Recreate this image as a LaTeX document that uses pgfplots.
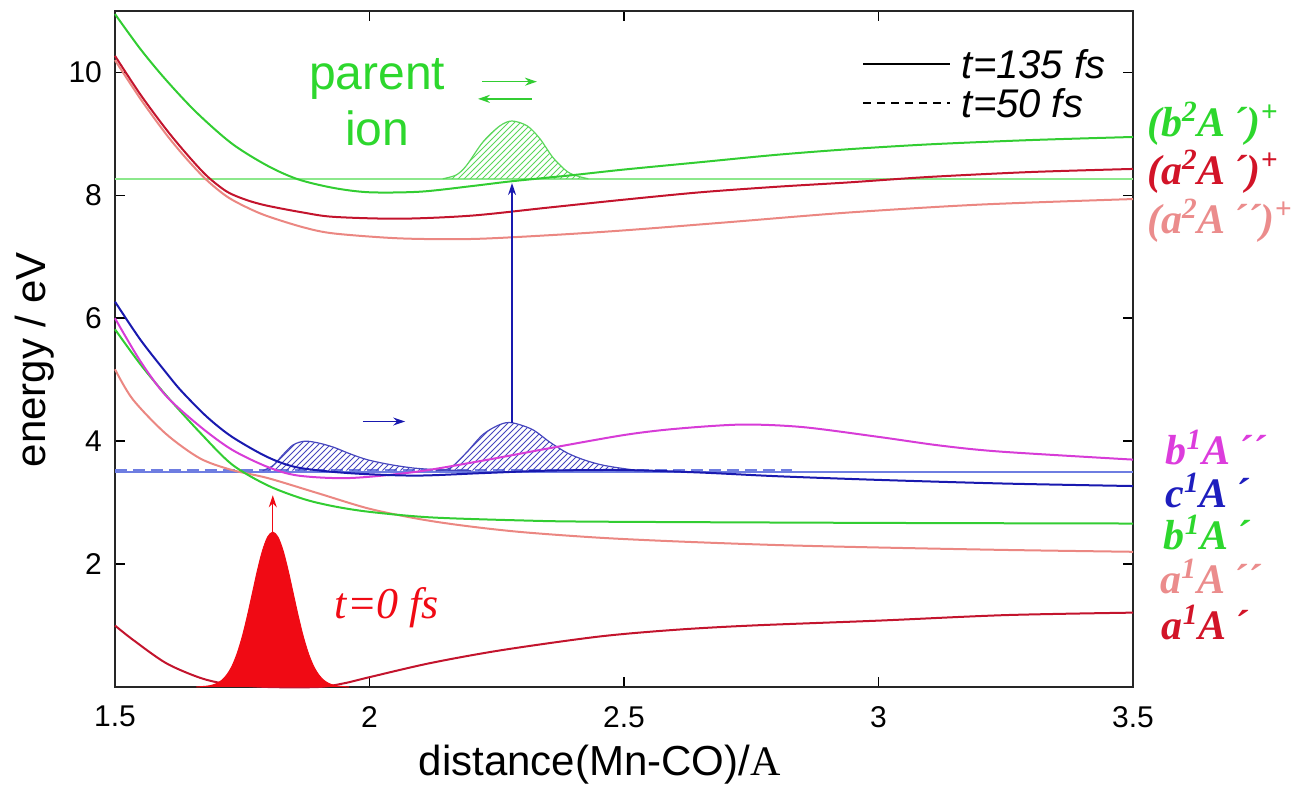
\documentclass[border=0pt]{standalone}
\usepackage{fontspec}
\setmainfont{Liberation Sans}
\newfontfamily\tnr{Liberation Serif}
\usepackage{pgfplots}
\pgfplotsset{compat=1.18}
\usetikzlibrary{patterns,arrows.meta}
\definecolor{cgreen}{RGB}{50,205,50}
\definecolor{clgreen}{RGB}{140,232,140}
\definecolor{ccrim}{RGB}{195,20,45}
\definecolor{cpink}{RGB}{235,135,130}
\definecolor{cblue}{RGB}{25,25,175}
\definecolor{clblue}{RGB}{110,125,225}
\definecolor{cmag}{RGB}{215,60,215}
\definecolor{cred}{RGB}{240,10,20}
\definecolor{cpack}{RGB}{70,70,190}
\definecolor{tgreen}{RGB}{45,215,45}
\definecolor{tcrim}{RGB}{210,20,40}
\definecolor{tpink}{RGB}{235,140,140}
\definecolor{tmag}{RGB}{220,60,220}
\definecolor{tblue}{RGB}{30,30,190}
\newcommand{\st}{\tnr\bfseries\itshape}
\begin{document}
\begin{tikzpicture}
\useasboundingbox (-57.5pt,-53pt) rectangle (596.5pt,343.5pt);
\begin{axis}[
  scale only axis, width=509pt, height=338pt,
  xmin=1.5, xmax=3.5, ymin=0, ymax=11,
  xtick={1.5,2,2.5,3,3.5}, xticklabels={1.5,2,2.5,3,3.5},
  ytick={2,4,6,8,10},
  /pgf/number format/assume math mode=true,
  tick align=inside, major tick length=5pt,
  tick style={line width=0.8pt, black},
  axis line style={line width=1pt, black!85},
  ticklabel style={font=\fontsize{15}{18}\selectfont},
  xticklabel shift=6pt, yticklabel shift=3pt,
  xlabel={distance(Mn-CO)/{\tnr A}},
  ylabel={energy / eV},
  label style={font=\fontsize{21}{25}\selectfont},
  xlabel style={at={(axis description cs:0.476,-0.115)}, anchor=center},
  ylabel style={at={(axis description cs:-0.079,0.484)}, anchor=center},
  clip=false,
]
% horizontal reference lines
\addplot[clgreen, line width=0.9pt] coordinates {(1.5,8.27)(3.5,8.27)};
\addplot[clblue, line width=0.9pt] coordinates {(1.5,3.50)(3.5,3.50)};
\addplot[clblue, line width=1.4pt, dash pattern=on 6pt off 3pt] coordinates {(1.5,3.53)(2.83,3.53)};

% wave packets
\addplot[cgreen!80, line width=0.6pt, pattern=north east lines, pattern color=cgreen!80, smooth] coordinates {
(2.144,8.27)(2.17,8.33)(2.19,8.48)(2.223,8.87)(2.256,9.13)(2.28,9.21)(2.31,9.13)(2.335,8.92)(2.36,8.62)(2.388,8.39)(2.41,8.31)(2.43,8.27)};
\addplot[cpack, line width=0.6pt, pattern=north east lines, pattern color=cpack, smooth] coordinates {
(1.79,3.52)(1.81,3.6)(1.83,3.78)(1.85,3.94)(1.873,4.0)(1.90,3.97)(1.93,3.9)(1.96,3.8)(1.995,3.70)(2.04,3.62)(2.09,3.56)(2.15,3.53)(2.2,3.52)};
\addplot[cpack, line width=0.6pt, pattern=north east lines, pattern color=cpack, smooth] coordinates {
(2.13,3.52)(2.158,3.56)(2.19,3.81)(2.223,4.11)(2.256,4.27)(2.28,4.30)(2.32,4.19)(2.355,3.98)(2.388,3.81)(2.42,3.70)(2.453,3.62)(2.486,3.57)(2.53,3.52)};

% upper (ionic) curves
\addplot[cpink, line width=1pt, smooth] coordinates {
(1.5,10.2)(1.55,9.57)(1.6,9.0)(1.64,8.6)(1.68,8.25)(1.72,7.98)(1.76,7.8)(1.8,7.66)(1.87,7.48)(1.93,7.38)(2.06,7.3)(2.2,7.29)(2.35,7.35)(2.5,7.43)(2.7,7.56)(2.94,7.72)(3.2,7.85)(3.5,7.94)};
\addplot[ccrim, line width=1pt, smooth] coordinates {
(1.5,10.27)(1.55,9.64)(1.6,9.08)(1.64,8.68)(1.68,8.32)(1.72,8.06)(1.76,7.92)(1.8,7.83)(1.87,7.72)(1.93,7.65)(2.06,7.62)(2.2,7.67)(2.35,7.8)(2.5,7.93)(2.65,8.05)(2.8,8.14)(2.94,8.21)(3.1,8.3)(3.3,8.38)(3.5,8.43)};
\addplot[cgreen, line width=1pt, smooth] coordinates {
(1.5,10.95)(1.55,10.38)(1.6,9.88)(1.66,9.35)(1.73,8.84)(1.8,8.48)(1.86,8.26)(1.93,8.12)(2.0,8.05)(2.1,8.06)(2.2,8.15)(2.28,8.23)(2.4,8.33)(2.5,8.42)(2.65,8.54)(2.8,8.66)(2.94,8.75)(3.1,8.83)(3.3,8.9)(3.5,8.95)};

% lower (neutral) curves
\addplot[cpink, line width=1pt, smooth] coordinates {
(1.5,5.17)(1.535,4.68)(1.6,4.12)(1.667,3.72)(1.73,3.53)(1.8,3.4)(1.9,3.15)(2.0,2.9)(2.1,2.73)(2.19,2.62)(2.3,2.52)(2.45,2.43)(2.6,2.37)(2.8,2.31)(3.0,2.27)(3.25,2.23)(3.5,2.2)};
\addplot[cgreen, line width=1pt, smooth] coordinates {
(1.5,5.82)(1.55,5.25)(1.6,4.75)(1.667,4.14)(1.73,3.62)(1.8,3.28)(1.87,3.06)(1.93,2.94)(2.0,2.85)(2.12,2.76)(2.3,2.71)(2.45,2.69)(3.0,2.67)(3.5,2.66)};
\addplot[cmag, line width=1pt, smooth] coordinates {
(1.5,6.0)(1.55,5.3)(1.6,4.74)(1.667,4.24)(1.73,3.86)(1.8,3.58)(1.86,3.44)(1.96,3.40)(2.09,3.5)(2.22,3.68)(2.35,3.88)(2.5,4.1)(2.6,4.2)(2.73,4.27)(2.85,4.23)(3.0,4.07)(3.12,3.93)(3.24,3.83)(3.5,3.70)};
\addplot[cblue, line width=1pt, smooth] coordinates {
(1.5,6.27)(1.55,5.65)(1.6,5.12)(1.63,4.82)(1.68,4.4)(1.73,4.07)(1.8,3.74)(1.86,3.57)(1.96,3.48)(2.09,3.44)(2.22,3.48)(2.35,3.52)(2.5,3.53)(2.65,3.49)(2.8,3.43)(3.0,3.37)(3.25,3.31)(3.5,3.27)};
\addplot[ccrim, line width=1pt, smooth] coordinates {
(1.5,1.0)(1.535,0.77)(1.6,0.39)(1.667,0.15)(1.72,0.05)(1.8,0.0)(1.9,0.0)(1.95,0.06)(2.0,0.16)(2.12,0.39)(2.26,0.6)(2.45,0.82)(2.6,0.93)(2.75,1.0)(3.0,1.08)(3.25,1.17)(3.5,1.21)};

% initial wave packet
\addplot[cred, fill=cred, line width=0.5pt, smooth] coordinates {
(1.66,0)(1.68,0.013)(1.69,0.028)(1.70,0.057)(1.71,0.111)(1.72,0.201)(1.73,0.341)(1.74,0.545)(1.75,0.818)(1.76,1.154)(1.77,1.528)(1.78,1.902)(1.79,2.224)(1.80,2.442)(1.81,2.52)(1.82,2.442)(1.83,2.224)(1.84,1.902)(1.85,1.528)(1.86,1.154)(1.87,0.818)(1.88,0.545)(1.89,0.341)(1.90,0.201)(1.91,0.111)(1.92,0.057)(1.93,0.028)(1.94,0.013)(1.96,0)};

% arrows
\addplot[cred, line width=0.7pt, -{Stealth[length=6pt,width=4pt]}] coordinates {(1.81,2.52)(1.81,3.12)};
\addplot[cblue, line width=0.7pt, -{Stealth[length=6pt,width=4pt]}] coordinates {(2.28,4.30)(2.28,8.2)};
\addplot[cblue, line width=0.7pt, -{Stealth[length=6pt,width=4pt]}] coordinates {(1.987,4.32)(2.07,4.32)};
\addplot[cgreen, line width=0.7pt, -{Stealth[length=6pt,width=4pt]}] coordinates {(2.221,9.85)(2.329,9.85)};
\addplot[cgreen, line width=0.7pt, -{Stealth[length=6pt,width=4pt]}] coordinates {(2.319,9.57)(2.213,9.57)};

% legend
\addplot[black, line width=0.8pt] coordinates {(2.97,10.14)(3.14,10.14)};
\addplot[black, line width=0.8pt, dash pattern=on 4pt off 3pt] coordinates {(2.97,9.5)(3.14,9.5)};
\node[anchor=west, font=\fontsize{20}{23}\selectfont\itshape] at (axis cs:3.15,10.14) {t=135 fs};
\node[anchor=west, font=\fontsize{20}{23}\selectfont\itshape] at (axis cs:3.15,9.5) {t=50 fs};

% annotations
\node[align=center, text=tgreen, font=\fontsize{24}{28}\selectfont] at (axis cs:2.015,9.52) {parent\\ion};
\node[anchor=base west, text=cred, font=\fontsize{22}{26}\selectfont\tnr\itshape] at (axis cs:1.918,1.12) {t=0 fs};

% state labels
\node[anchor=base west, text=tgreen, font=\fontsize{21}{25}\selectfont\st] at (axis cs:3.514,8.96) {(b\textsuperscript{2}A\,´)\textsuperscript{+}};
\node[anchor=base west, text=tcrim, font=\fontsize{21}{25}\selectfont\st] at (axis cs:3.514,8.18) {(a\textsuperscript{2}A\,´)\textsuperscript{+}};
\node[anchor=base west, text=tpink, font=\fontsize{21}{25}\selectfont\st] at (axis cs:3.514,7.38) {(a\textsuperscript{2}A\,´´)\textsuperscript{+}};
\node[anchor=base west, text=tmag, font=\fontsize{21}{25}\selectfont\st] at (axis cs:3.55,3.62) {b\textsuperscript{1}A\,´´};
\node[anchor=base west, text=tblue, font=\fontsize{21}{25}\selectfont\st] at (axis cs:3.55,2.92) {c\textsuperscript{1}A\,´};
\node[anchor=base west, text=tgreen, font=\fontsize{21}{25}\selectfont\st] at (axis cs:3.547,2.24) {b\textsuperscript{1}A\,´};
\node[anchor=base west, text=tpink, font=\fontsize{21}{25}\selectfont\st] at (axis cs:3.54,1.52) {a\textsuperscript{1}A\,´´};
\node[anchor=base west, text=tcrim, font=\fontsize{21}{25}\selectfont\st] at (axis cs:3.543,0.77) {a\textsuperscript{1}A\,´};
\end{axis}
\end{tikzpicture}
\end{document}
